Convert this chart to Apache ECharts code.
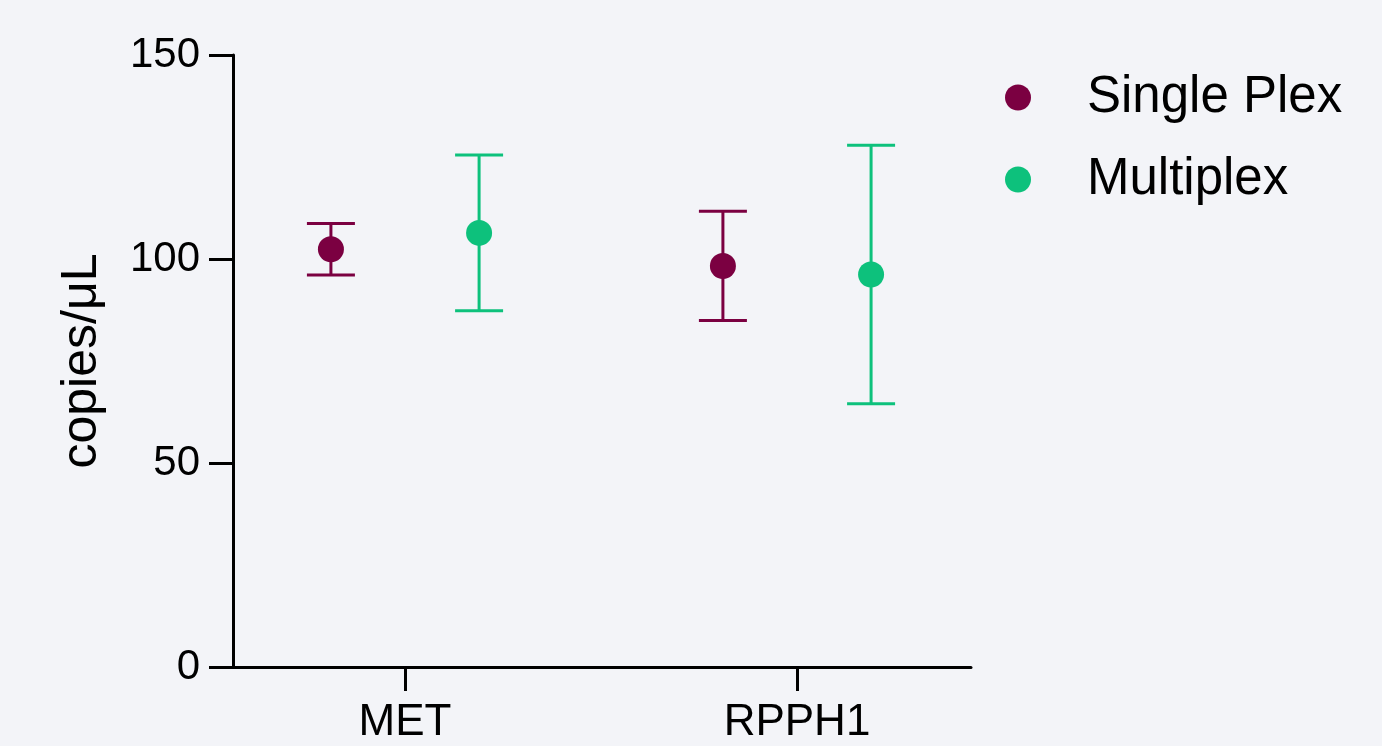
<!DOCTYPE html>
<html>
<head>
<meta charset="utf-8">
<script src="https://cdn.jsdelivr.net/npm/echarts@6/dist/echarts.min.js"></script>
<style>
html,body{margin:0;padding:0;background:#f3f4f8;}
#chart{width:1382px;height:746px;}
</style>
</head>
<body>
<div id="chart"></div>
<script>
// ---- data ----
const categories = ['MET', 'RPPH1'];
const seriesNames = ['Single Plex', 'Multiplex'];
const singleMean = [102.4, 98.3];
const singleLow  = [96.1, 84.9];
const singleHigh = [108.7, 111.7];
const multiMean  = [106.4, 96.2];
const multiLow   = [87.3, 64.5];
const multiHigh  = [125.5, 127.9];
const yTicks = [0, 50, 100, 150];

const colors = ['#7b0041', '#0dc17c'];
const FONT = '"Liberation Sans", Arial, Helvetica, sans-serif';
const offset = 0.189;

function build(mean, low, high, shift) {
  return categories.map((c, i) => [i + 1 + shift, mean[i], low[i], high[i]]);
}
const singleData = build(singleMean, singleLow, singleHigh, -offset);
const multiData = build(multiMean, multiLow, multiHigh, offset);

function errRender(color) {
  return function (params, api) {
    const x = api.value(0);
    const lo = api.coord([x, api.value(2)]);
    const hi = api.coord([x, api.value(3)]);
    const hw = 24;
    const style = { stroke: color, lineWidth: 3, fill: null };
    return {
      type: 'group',
      children: [
        { type: 'line', shape: { x1: lo[0], y1: lo[1], x2: hi[0], y2: hi[1] }, style: style },
        { type: 'line', shape: { x1: lo[0] - hw, y1: lo[1], x2: lo[0] + hw, y2: lo[1] }, style: style },
        { type: 'line', shape: { x1: hi[0] - hw, y1: hi[1], x2: hi[0] + hw, y2: hi[1] }, style: style }
      ]
    };
  };
}

const chart = echarts.init(document.getElementById('chart'));
chart.setOption({
  backgroundColor: '#f3f4f8',
  animation: false,
  textStyle: { fontFamily: FONT },
  grid: { left: 233, right: 411, top: 55, bottom: 79 },
  legend: {
    orient: 'vertical',
    left: 1000,
    top: 67,
    icon: 'circle',
    itemWidth: 26,
    itemHeight: 26,
    itemGap: 31,
    data: seriesNames,
    textStyle: { fontSize: 51, color: '#000', fontFamily: FONT, padding: [4, 0, 0, 51] }
  },
  xAxis: {
    type: 'value',
    min: 0.5612,
    max: 2.4439,
    splitLine: { show: false },
    axisLine: { show: true, onZero: false, lineStyle: { color: '#000', width: 3 } },
    axisTick: { show: true, length: 24, lineStyle: { color: '#000', width: 3 }, customValues: [1, 2] },
    axisLabel: {
      customValues: [1, 2],
      formatter: v => categories[Math.round(v) - 1] || '',
      fontSize: 44, color: '#000', margin: 34, fontFamily: FONT
    }
  },
  yAxis: {
    type: 'value',
    min: 0, max: 150, interval: 50,
    name: 'copies/μL',
    nameLocation: 'middle',
    nameGap: 126,
    nameRotate: 90,
    nameTextStyle: { fontSize: 50, color: '#000', fontFamily: FONT },
    splitLine: { show: false },
    axisLine: { show: true, lineStyle: { color: '#000', width: 3 } },
    axisTick: { show: true, length: 24, lineStyle: { color: '#000', width: 3 } },
    axisLabel: {
      customValues: yTicks,
      fontSize: 42, color: '#000', margin: 33, fontFamily: FONT
    }
  },
  series: [
    {
      name: seriesNames[0], type: 'custom', renderItem: errRender(colors[0]),
      data: singleData, encode: { x: 0, y: [1, 2, 3] }, itemStyle: { color: colors[0] }, z: 2
    },
    {
      name: seriesNames[1], type: 'custom', renderItem: errRender(colors[1]),
      data: multiData, encode: { x: 0, y: [1, 2, 3] }, itemStyle: { color: colors[1] }, z: 2
    },
    {
      name: seriesNames[0], type: 'scatter', symbol: 'circle', symbolSize: 26,
      data: singleData.map(d => [d[0], d[1]]), itemStyle: { color: colors[0], opacity: 1 }, z: 3
    },
    {
      name: seriesNames[1], type: 'scatter', symbol: 'circle', symbolSize: 26,
      data: multiData.map(d => [d[0], d[1]]), itemStyle: { color: colors[1], opacity: 1 }, z: 3
    }
  ]
});
</script>
</body>
</html>
